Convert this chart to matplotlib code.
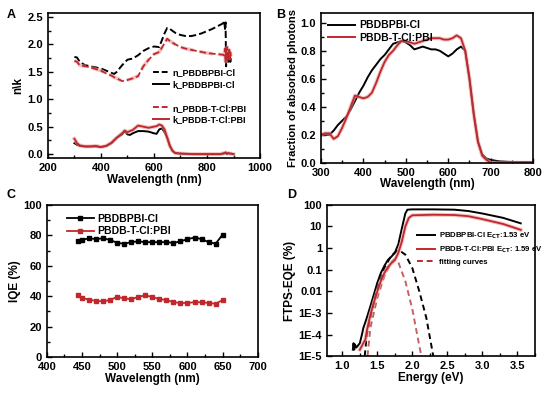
import numpy as np
import matplotlib
matplotlib.use("Agg")
import matplotlib.pyplot as plt
from matplotlib.ticker import MultipleLocator, FixedLocator, FixedFormatter, NullLocator
from matplotlib.lines import Line2D

plt.rcParams['font.family'] = ['Liberation Sans', 'DejaVu Sans']
plt.rcParams['font.weight'] = 'bold'
plt.rcParams['axes.labelweight'] = 'bold'

RED = '#c0282d'
PINK = '#e89a9a'

# ---------- Panel A data ----------
a_wl_n = [300, 310, 320, 340, 360, 380, 400, 420, 440, 450, 460, 480, 500, 520, 540, 560, 580, 600, 620,
          640, 650, 660, 680, 700, 720, 740, 760, 780, 800, 820, 840, 860, 865, 868, 870, 872, 874, 876, 878, 880, 882, 884, 886, 888, 890]
a_n_black = [1.77, 1.76, 1.68, 1.62, 1.60, 1.58, 1.56, 1.52, 1.48, 1.46, 1.50, 1.62, 1.72, 1.74, 1.80, 1.88, 1.93, 1.96, 1.95,
             2.20, 2.30, 2.28, 2.21, 2.17, 2.15, 2.15, 2.17, 2.20, 2.24, 2.28, 2.33, 2.38, 2.42, 2.28, 2.40, 1.60, 1.85, 1.70, 1.80, 1.65, 1.82, 1.72, 1.78, 1.68, 1.75]
a_n_red = [1.70, 1.68, 1.62, 1.60, 1.58, 1.55, 1.52, 1.47, 1.43, 1.40, 1.38, 1.33, 1.35, 1.38, 1.42, 1.60, 1.72, 1.82, 1.86,
           2.02, 2.10, 2.06, 2.00, 1.95, 1.92, 1.90, 1.88, 1.86, 1.84, 1.83, 1.82, 1.81, 1.80, 1.92, 1.68, 1.90, 1.72, 1.95, 1.70, 1.88, 1.75, 1.90, 1.72, 1.85, 1.78]
a_wl_k = [300, 310, 320, 340, 360, 380, 400, 420, 440, 460, 480, 490, 500, 510, 520, 540, 560, 580, 600, 610, 620, 630,
          640, 650, 660, 670, 680, 700, 750, 800, 850, 865, 870, 875, 880, 885, 890, 900]
a_k_black = [0.20, 0.17, 0.15, 0.14, 0.14, 0.14, 0.13, 0.15, 0.20, 0.30, 0.36, 0.42, 0.36, 0.35, 0.38, 0.42, 0.42, 0.41, 0.38, 0.37, 0.45, 0.47,
             0.40, 0.30, 0.15, 0.06, 0.02, 0.01, 0.00, 0.00, 0.00, 0.01, 0.03, 0.00, 0.02, 0.01, 0.01, 0.00]
a_k_red = [0.28, 0.20, 0.16, 0.14, 0.14, 0.15, 0.13, 0.15, 0.21, 0.30, 0.38, 0.43, 0.40, 0.42, 0.44, 0.52, 0.50, 0.48, 0.50, 0.51, 0.54, 0.52,
           0.45, 0.30, 0.15, 0.06, 0.02, 0.01, 0.00, 0.00, 0.00, 0.02, 0.03, 0.01, 0.02, 0.01, 0.01, 0.00]

# ---------- Panel B data ----------
b_wl = [300, 310, 320, 330, 340, 350, 360, 370, 380, 390, 400, 410, 420, 430, 440, 450, 460, 470, 480, 490, 500,
        510, 520, 530, 540, 550, 560, 570, 580, 590, 600, 610, 620, 630, 640, 650, 660, 670, 680, 690, 700, 720, 750, 800]
b_black = [0.20, 0.20, 0.20, 0.23, 0.27, 0.30, 0.33, 0.38, 0.44, 0.50, 0.55, 0.61, 0.66, 0.70, 0.74, 0.77, 0.81, 0.85, 0.86, 0.87, 0.86,
           0.84, 0.81, 0.82, 0.83, 0.82, 0.81, 0.81, 0.80, 0.78, 0.76, 0.78, 0.81, 0.83, 0.80, 0.60, 0.35, 0.15, 0.06, 0.03, 0.02, 0.01, 0.005, 0.005]
b_red = [0.20, 0.21, 0.21, 0.17, 0.19, 0.25, 0.32, 0.40, 0.48, 0.47, 0.46, 0.47, 0.50, 0.57, 0.65, 0.72, 0.77, 0.80, 0.84, 0.87, 0.87,
         0.86, 0.85, 0.86, 0.87, 0.88, 0.89, 0.89, 0.89, 0.88, 0.88, 0.89, 0.91, 0.89, 0.80, 0.60, 0.35, 0.15, 0.05, 0.02, 0.00, 0.00, 0.00, 0.00]

# ---------- Panel C data ----------
c_wl = [445, 450, 460, 470, 480, 490, 500, 510, 520, 530, 540, 550, 560, 570, 580, 590, 600, 610, 620, 630, 640, 650]
c_black = [76, 77, 78, 77.5, 78, 77, 75, 74.5, 75.5, 76, 75.5, 75.5, 75.5, 75.5, 75, 76, 77.5, 78.5, 77.5, 75.5, 74.5, 80.5]
c_red = [40.5, 39, 37.5, 37, 36.5, 37.5, 39.5, 38.5, 38, 39.5, 40.5, 39.5, 38, 37.5, 36, 35.5, 35.5, 36, 36, 35.5, 35, 37.5]

# ---------- Panel D data ----------
d_e_black = [1.15, 1.16, 1.17, 1.18, 1.20, 1.22, 1.25, 1.28, 1.30, 1.35, 1.40, 1.45, 1.50, 1.55, 1.60, 1.65, 1.70, 1.75, 1.80,
             1.85, 1.90, 1.93, 2.00, 2.30, 2.60, 2.80, 3.00, 3.30, 3.55]
d_black = [2e-5, 4e-5, 2e-5, 3.5e-5, 2.5e-5, 3e-5, 4e-5, 1e-4, 2e-4, 6e-4, 2e-3, 7e-3, 0.025, 0.07, 0.15, 0.28, 0.40, 0.60, 1.5,
           8, 40, 60, 62, 62, 60, 52, 40, 25, 14]
d_e_red = [1.25, 1.28, 1.30, 1.33, 1.35, 1.40, 1.45, 1.50, 1.55, 1.60, 1.65, 1.70, 1.75, 1.80, 1.85, 1.90, 1.95, 2.00,
           2.30, 2.60, 2.80, 3.00, 3.30, 3.55]
d_red = [2e-5, 3e-5, 4e-5, 6e-5, 1.5e-4, 8e-4, 3e-3, 1e-2, 0.03, 0.07, 0.13, 0.20, 0.28, 0.6, 2, 10, 25, 33,
         35, 34, 30, 22, 13, 7]
d_e_fit_black = [1.32, 1.35, 1.40, 1.50, 1.60, 1.70, 1.78, 1.85, 1.90, 2.00, 2.10, 2.20, 2.30]
d_fit_black = [1e-5, 1e-4, 6e-4, 0.015, 0.12, 0.45, 0.75, 0.65, 0.50, 0.12, 0.01, 6e-4, 1e-5]
d_e_fit_red = [1.36, 1.40, 1.50, 1.60, 1.70, 1.74, 1.80, 1.90, 2.00, 2.10, 2.13]
d_fit_red = [1e-5, 2e-4, 5e-3, 0.05, 0.22, 0.30, 0.22, 0.03, 1.5e-3, 3e-5, 1e-5]
d_ytick_vals = [1e-5, 1e-4, 1e-3, 0.01, 0.1, 1, 10, 100]
d_ytick_labels = ['1E-5', '1E-4', '1E-3', '0.01', '0.1', '1', '10', '100']

fig = plt.figure(figsize=(5.44, 3.94), dpi=100)

TICK = 8
LAB = 8.5


def style(ax):
    ax.tick_params(which='both', direction='in', labelsize=TICK, top=False, right=False, width=1)
    ax.tick_params(which='major', length=3.5)
    ax.tick_params(which='minor', length=2)
    for s in ax.spines.values():
        s.set_linewidth(1.2)
    for lab in ax.get_xticklabels() + ax.get_yticklabels():
        lab.set_fontweight('bold')


# Panel A
axA = fig.add_axes([0.088, 0.599, 0.390, 0.368])
axA.plot(a_wl_n, a_n_black, color='black', ls='--', lw=1.4)
axA.plot(a_wl_k, a_k_black, color='black', ls='-', lw=1.4)
axA.plot(a_wl_n, a_n_red, color=PINK, ls='--', lw=2.6, alpha=0.6)
axA.plot(a_wl_n, a_n_red, color=RED, ls='--', lw=1.3)
axA.plot(a_wl_k, a_k_red, color=PINK, ls='-', lw=2.8, alpha=0.6)
axA.plot(a_wl_k, a_k_red, color=RED, ls='-', lw=1.3)
axA.set_xlim(200, 1000)
axA.set_ylim(-0.07, 2.57)
axA.xaxis.set_major_locator(MultipleLocator(200))
axA.xaxis.set_minor_locator(MultipleLocator(100))
axA.yaxis.set_major_locator(MultipleLocator(0.5))
axA.yaxis.set_minor_locator(MultipleLocator(0.25))
axA.set_xlabel('Wavelength (nm)', fontsize=LAB, labelpad=1)
axA.set_ylabel('n\\k', fontsize=LAB, labelpad=2)
style(axA)
hA = [Line2D([], [], color='black', ls=(0, (3, 1.5)), lw=1.4),
      Line2D([], [], color='black', ls='-', lw=1.4),
      Line2D([], [], color='none'),
      Line2D([], [], color=RED, ls=(0, (3, 1.5)), lw=1.4),
      Line2D([], [], color=RED, ls='-', lw=1.4)]
lA = ['n_PBDBPBI-Cl', 'k_PBDBPBI-Cl', '', 'n_PBDB-T-Cl:PBI', 'k_PBDB-T-Cl:PBI']
axA.legend(hA, lA, loc='upper left', bbox_to_anchor=(0.47, 0.655), frameon=False,
           fontsize=6.5, handlelength=1.8, handletextpad=0.3, labelspacing=0.3, borderpad=0.1)
fig.text(0.012, 0.962, 'A', fontsize=9, fontweight='bold', va='center')

# Panel B
axB = fig.add_axes([0.590, 0.587, 0.390, 0.380])
axB.plot(b_wl, b_black, color='black', lw=1.4)
axB.plot(b_wl, b_red, color=PINK, lw=2.8, alpha=0.6)
axB.plot(b_wl, b_red, color=RED, lw=1.3)
axB.set_xlim(300, 800)
axB.set_ylim(0, 1.07)
axB.xaxis.set_major_locator(MultipleLocator(100))
axB.xaxis.set_minor_locator(MultipleLocator(50))
axB.yaxis.set_major_locator(MultipleLocator(0.2))
axB.yaxis.set_minor_locator(MultipleLocator(0.1))
axB.set_xlabel('Wavelength (nm)', fontsize=LAB, labelpad=0)
axB.set_ylabel('Fraction of absorbed photons', fontsize=8.0, labelpad=2)
style(axB)
hB = [Line2D([], [], color='black', lw=1.4), Line2D([], [], color=RED, lw=1.4)]
axB.legend(hB, ['PBDBPBI-Cl', 'PBDB-T-Cl:PBI'], loc='upper left', bbox_to_anchor=(0.0, 1.0), frameon=False,
           fontsize=7.5, handlelength=2.6, handletextpad=0.4, labelspacing=0.25, borderpad=0.2)
fig.text(0.507, 0.962, 'B', fontsize=9, fontweight='bold', va='center')

# Panel C
axC = fig.add_axes([0.086, 0.094, 0.388, 0.386])
axC.plot(c_wl, c_black, color='black', lw=1.3, marker='s', ms=2.5)
axC.plot(c_wl, c_red, color=RED, lw=1.3, marker='s', ms=2.5)
axC.set_xlim(400, 700)
axC.set_ylim(0, 100)
axC.xaxis.set_major_locator(MultipleLocator(50))
axC.xaxis.set_minor_locator(MultipleLocator(25))
axC.yaxis.set_major_locator(MultipleLocator(20))
axC.yaxis.set_minor_locator(MultipleLocator(10))
axC.set_xlabel('Wavelength (nm)', fontsize=LAB, labelpad=1)
axC.set_ylabel('IQE (%)', fontsize=LAB, labelpad=2)
style(axC)
hC = [Line2D([], [], color='black', lw=1.3, marker='s', ms=2.5), Line2D([], [], color=RED, lw=1.3, marker='s', ms=2.5)]
axC.legend(hC, ['PBDBPBI-Cl', 'PBDB-T-Cl:PBI'], loc='upper left', bbox_to_anchor=(0.06, 0.99), frameon=False,
           fontsize=7.5, handlelength=2.6, handletextpad=0.3, labelspacing=0.25, borderpad=0.2)
fig.text(0.012, 0.505, 'C', fontsize=9, fontweight='bold', va='center')

# Panel D
axD = fig.add_axes([0.601, 0.096, 0.382, 0.384])
axD.plot(d_e_fit_black, d_fit_black, color='black', ls=(0, (3, 2)), lw=1.4)
axD.plot(d_e_fit_red, d_fit_red, color='#c86060', ls=(0, (3, 2)), lw=1.4)
axD.plot(d_e_black, d_black, color='black', lw=1.4)
axD.plot(d_e_red, d_red, color=PINK, lw=2.8, alpha=0.6)
axD.plot(d_e_red, d_red, color=RED, lw=1.3)
axD.set_yscale('log')
axD.set_xlim(0.78, 3.75)
axD.set_ylim(1e-5, 100)
axD.xaxis.set_major_locator(MultipleLocator(0.5))
axD.xaxis.set_minor_locator(MultipleLocator(0.25))
axD.yaxis.set_major_locator(FixedLocator(d_ytick_vals))
axD.yaxis.set_major_formatter(FixedFormatter(d_ytick_labels))
axD.yaxis.set_minor_locator(NullLocator())
axD.set_xlabel('Energy (eV)', fontsize=LAB, labelpad=1)
axD.set_ylabel('FTPS-EQE (%)', fontsize=LAB, labelpad=2)
style(axD)
hD = [Line2D([], [], color='black', lw=1.4), Line2D([], [], color=RED, lw=1.4),
      Line2D([], [], color=RED, ls=(0, (3, 2)), lw=1.4)]
axD.legend(hD, ['PBDBPBI-Cl E$_{\\mathbf{CT}}$:1.53 eV', 'PBDB-T-Cl:PBI E$_{\\mathbf{CT}}$: 1.59 eV', 'fitting curves'],
           loc='upper left', bbox_to_anchor=(0.41, 0.86), frameon=False,
           fontsize=5.6, handlelength=2.4, handletextpad=0.4, labelspacing=0.45, borderpad=0.1)
fig.text(0.527, 0.505, 'D', fontsize=9, fontweight='bold', va='center')

fig.savefig('out.png', dpi=100)
